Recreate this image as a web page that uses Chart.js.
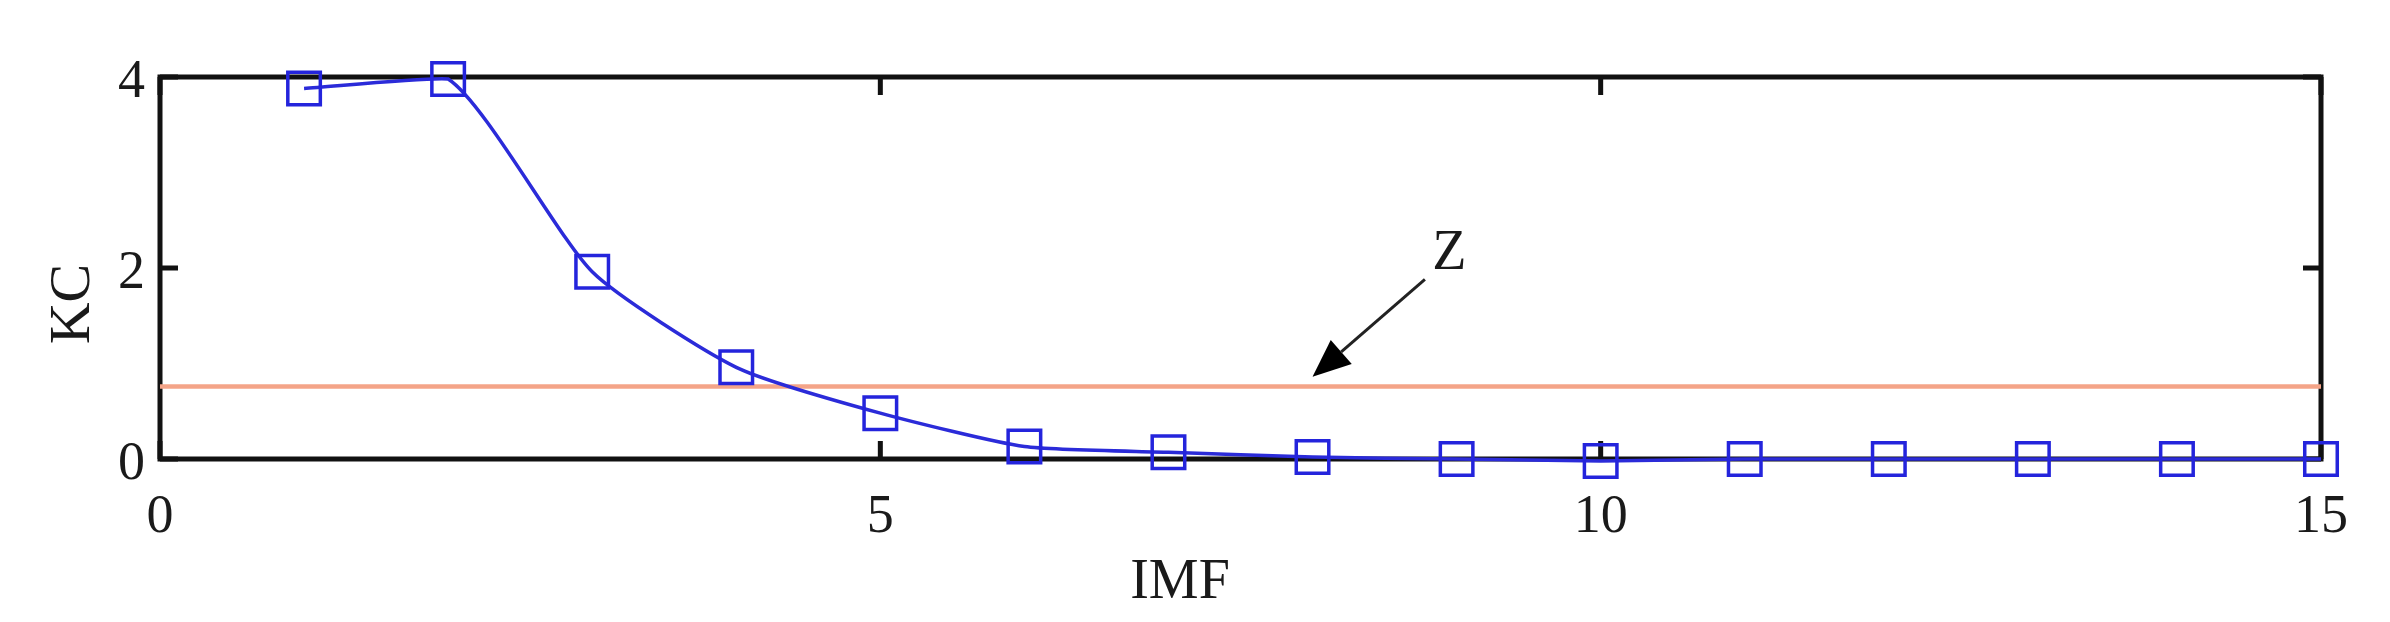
<!DOCTYPE html>
<html>
<head>
<meta charset="utf-8">
<script src="https://cdn.jsdelivr.net/npm/chart.js@4.4.1/dist/chart.umd.min.js"></script>
<style>
  html, body { margin: 0; padding: 0; background: #fff; }
</style>
</head>
<body>
<canvas id="graficoKC" width="2390" height="622"></canvas>
<script>
// dados
const imf = [1, 2, 3, 4, 5, 6, 7, 8, 9, 10, 11, 12, 13, 14, 15];
const kc = [3.88, 3.98, 1.96, 0.96, 0.48, 0.13, 0.07, 0.02, 0, -0.02, 0, 0, 0, 0, 0];
const limiarX = [0, 15];
const limiarY = [0.76, 0.76];
const ticksX = [0, 5, 10, 15];
const ticksY = [0, 2, 4];
// anotacao "Z" (coordenadas nos eixos)
const setaInicio = [8.78, 1.88];
const setaFim = [8.0, 0.86];
const rotuloZ = [8.95, 2.14];

const fonte = "'Liberation Serif', 'Times New Roman', serif";

const moldura = {
  id: "moldura",
  beforeDatasetsDraw(chart) {
    const { ctx, chartArea: a, scales: { x, y } } = chart;
    ctx.save();
    ctx.strokeStyle = "#111";
    ctx.lineWidth = 5;
    ctx.strokeRect(a.left, a.top, a.right - a.left, a.bottom - a.top);
    const t = 18;
    ctx.beginPath();
    ticksX.forEach(v => {
      const px = x.getPixelForValue(v);
      ctx.moveTo(px, a.bottom); ctx.lineTo(px, a.bottom - t);
      ctx.moveTo(px, a.top); ctx.lineTo(px, a.top + t);
    });
    ticksY.forEach(v => {
      const py = y.getPixelForValue(v);
      ctx.moveTo(a.left, py); ctx.lineTo(a.left + t, py);
      ctx.moveTo(a.right, py); ctx.lineTo(a.right - t, py);
    });
    ctx.stroke();
    ctx.restore();
  },
  afterDatasetsDraw(chart) {
    const { ctx, chartArea: a, scales: { x, y } } = chart;
    ctx.save();
    // titulos dos eixos
    ctx.fillStyle = "#1a1a1a";
    ctx.font = `56px ${fonte}`;
    ctx.textAlign = "center";
    ctx.textBaseline = "middle";
    ctx.fillText("IMF", a.left + (a.right - a.left) * 0.472, 583);
    ctx.save();
    ctx.translate(74, (a.top + a.bottom) / 2 + 36);
    ctx.rotate(-Math.PI / 2);
    ctx.font = `58px ${fonte}`;
    ctx.fillText("KC", 0, 0);
    ctx.restore();

    // seta e rotulo Z
    const x0 = x.getPixelForValue(setaInicio[0]), y0 = y.getPixelForValue(setaInicio[1]);
    const x1 = x.getPixelForValue(setaFim[0]), y1 = y.getPixelForValue(setaFim[1]);
    const ang = Math.atan2(y1 - y0, x1 - x0);
    const cab = 38, larg = 16;
    const bx = x1 - cab * Math.cos(ang), by = y1 - cab * Math.sin(ang);
    ctx.strokeStyle = "#222";
    ctx.lineWidth = 3;
    ctx.beginPath();
    ctx.moveTo(x0, y0);
    ctx.lineTo(bx, by);
    ctx.stroke();
    ctx.fillStyle = "#000";
    ctx.beginPath();
    ctx.moveTo(x1, y1);
    ctx.lineTo(bx + larg * Math.sin(ang), by - larg * Math.cos(ang));
    ctx.lineTo(bx - larg * Math.sin(ang), by + larg * Math.cos(ang));
    ctx.closePath();
    ctx.fill();
    ctx.fillStyle = "#1a1a1a";
    ctx.font = `56px ${fonte}`;
    ctx.fillText("Z", x.getPixelForValue(rotuloZ[0]), y.getPixelForValue(rotuloZ[1]));
    ctx.restore();
  }
};

new Chart(document.getElementById("graficoKC"), {
  type: "line",
  data: {
    datasets: [
      {
        label: "KC",
        data: imf.map((v, i) => ({ x: v, y: kc[i] })),
        borderColor: "#2b2bd9",
        borderWidth: 3.5,
        tension: 0.2,
        pointStyle: "rect",
        pointRadius: 23,
        pointBorderWidth: 3.5,
        pointBorderColor: "#2424dc",
        pointBackgroundColor: "rgba(0,0,0,0)",
        clip: false
      },
      {
        label: "Z",
        data: limiarX.map((v, i) => ({ x: v, y: limiarY[i] })),
        borderColor: "#f4a488",
        borderWidth: 4.5,
        pointRadius: 0
      }
    ]
  },
  options: {
    responsive: false,
    animation: false,
    layout: { padding: { top: 77, right: 69, bottom: 63, left: 0 } },
    plugins: { legend: { display: false }, tooltip: { enabled: false } },
    scales: {
      x: {
        type: "linear",
        min: 0,
        max: 15,
        afterBuildTicks: s => { s.ticks = ticksX.map(v => ({ value: v })); },
        afterFit: s => { s.height = 100; },
        grid: { display: false, drawTicks: false },
        border: { display: false },
        ticks: { padding: 26, color: "#1a1a1a", font: { family: fonte, size: 54 } }
      },
      y: {
        min: 0,
        max: 4,
        afterBuildTicks: s => { s.ticks = ticksY.map(v => ({ value: v })); },
        afterFit: s => { s.width = 160; },
        grid: { display: false, drawTicks: false },
        border: { display: false },
        ticks: { padding: 15, labelOffset: 6, color: "#1a1a1a", font: { family: fonte, size: 54 } }
      }
    }
  },
  plugins: [moldura]
});
</script>
</body>
</html>
